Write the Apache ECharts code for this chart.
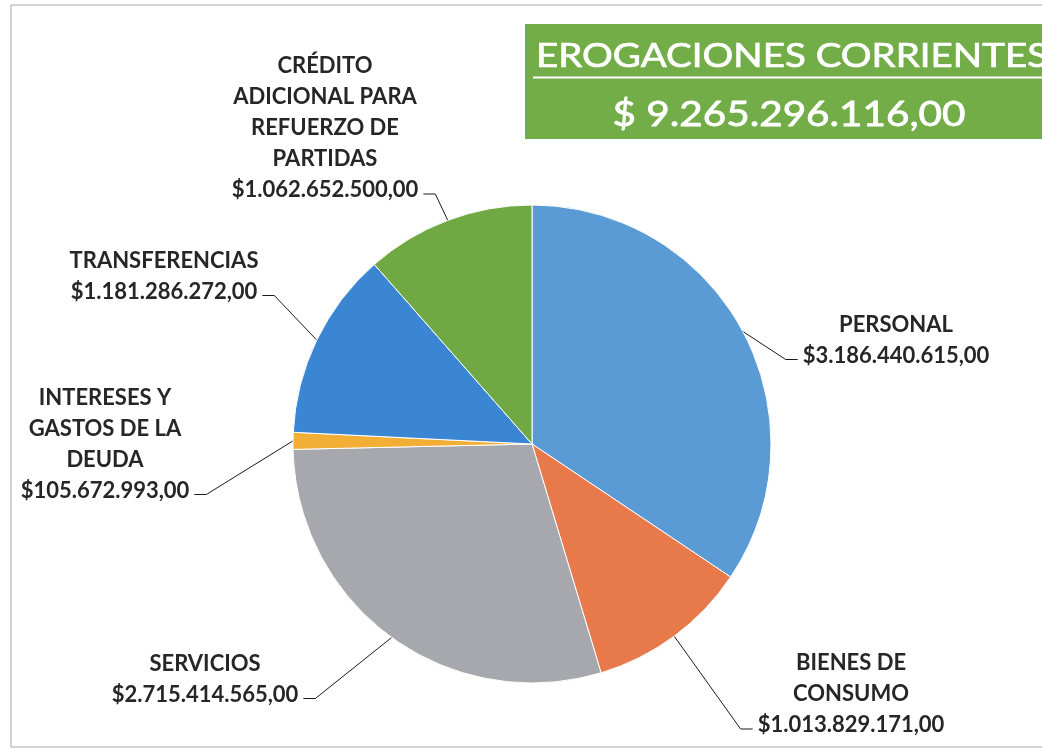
<!DOCTYPE html>
<html>
<head>
<meta charset="utf-8">
<script src="https://cdn.jsdelivr.net/npm/echarts@6/dist/echarts.min.js"></script>
<style>
html,body{margin:0;padding:0;background:#fff;}
#chart{width:1042px;height:749px;}
</style>
</head>
<body>
<div id="chart"></div>
<script>
// ---- data ----
const categories = [
  'PERSONAL',
  'BIENES DE\nCONSUMO',
  'SERVICIOS',
  'INTERESES Y\nGASTOS DE LA\nDEUDA',
  'TRANSFERENCIAS',
  'CRÉDITO\nADICIONAL PARA\nREFUERZO DE\nPARTIDAS'
];
const values = [3186440615, 1013829171, 2715414565, 105672993, 1181286272, 1062652500];
const colors = ['#5B9BD5', '#E8794A', '#A6A8AD', '#F2AE35', '#3B86D3', '#70A944'];
const titleText = 'EROGACIONES CORRIENTES';
const totalText = '$ 9.265.296.116,00';

// ---- layout (label block centres) ----
const labelPos = [
  [896, 340],
  [851, 694],
  [205, 679],
  [105, 444],
  [164, 276],
  [325, 128]
];
const LABEL_FONT = 'bold 22px Lato';
const LINE_H = 31;

function fmtMoney(v) {
  const s = String(Math.round(v)).replace(/\B(?=(\d{3})+(?!\d))/g, '.');
  return '$' + s + ',00';
}
const measureCtx = document.createElement('canvas').getContext('2d');
function textWidth(t, font) { measureCtx.font = font || LABEL_FONT; return measureCtx.measureText(t).width; }

const TITLE_FONT = '32px Lato';
const TOTAL_FONT = '35px Lato';
const titleScale = 512 / textWidth(titleText, TITLE_FONT);
const totalScale = 353 / textWidth(totalText, TOTAL_FONT);

const chart = echarts.init(document.getElementById('chart'), null, {renderer: 'canvas'});
chart.setOption({
  animation: false,
  backgroundColor: '#fff',
  graphic: [
    {type: 'rect', shape: {x: 11, y: 5, width: 1060, height: 742}, style: {fill: 'none', stroke: '#a8a8a8', lineWidth: 1}, z: 0},
    {type: 'rect', shape: {x: 525, y: 24, width: 530, height: 115}, style: {fill: '#72AD48'}, z: 10},
    {type: 'text', x: 536, y: 57, scaleX: titleScale, style: {text: titleText, fill: '#fff', font: TITLE_FONT, verticalAlign: 'middle', align: 'left', stroke: '#fff', lineWidth: 0.7}, z: 11},
    {type: 'line', shape: {x1: 533, y1: 77.5, x2: 1042, y2: 77.5}, style: {stroke: '#fff', lineWidth: 2}, z: 11},
    {type: 'text', x: 789, y: 115, scaleX: totalScale, style: {text: totalText, fill: '#fff', font: TOTAL_FONT, verticalAlign: 'middle', align: 'center', stroke: '#fff', lineWidth: 0.8}, z: 11}
  ],
  series: [{
    type: 'pie',
    center: [532, 444],
    radius: 239,
    startAngle: 90,
    clockwise: true,
    avoidLabelOverlap: false,
    itemStyle: {borderColor: '#fff', borderWidth: 1},
    label: {
      show: true,
      formatter: p => p.name + '\n' + fmtMoney(p.value),
      color: '#262626',
      fontFamily: 'Lato',
      fontWeight: 'bold',
      fontSize: 22,
      lineHeight: LINE_H,
      align: 'center'
    },
    labelLine: {show: true, length: 20, length2: 10, smooth: false, lineStyle: {color: '#1a1a1a', width: 1}},
    labelLayout: function (params) {
      const i = params.dataIndex;
      const p = labelPos[i];
      const anchor = params.labelLinePoints[0];
      const h = params.labelRect.height;
      const vy = p[1] + h / 2 - LINE_H / 2 + 4;
      const w = textWidth(fmtMoney(values[i]));
      let end, bend;
      if (p[0] < anchor[0]) { end = p[0] + w / 2 + 5; bend = end + 12; }
      else { end = p[0] - w / 2 - 5; bend = end - 12; }
      return {
        x: p[0], y: p[1], align: 'center', verticalAlign: 'middle',
        labelLinePoints: [anchor, [bend, vy], [end, vy]]
      };
    },
    emphasis: {disabled: true},
    data: categories.map((c, i) => ({name: c, value: values[i], itemStyle: {color: colors[i]}}))
  }]
});
</script>
</body>
</html>
